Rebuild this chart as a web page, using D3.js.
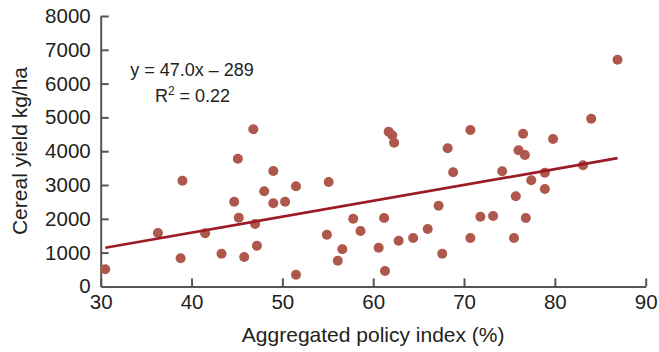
<!DOCTYPE html>
<html>
<head>
<meta charset="utf-8">
<script src="https://cdn.jsdelivr.net/npm/d3@7"></script>
<style>
  body { margin: 0; background: #fff; }
  svg { display: block; font-family: "Liberation Sans", Arial, sans-serif; }
</style>
</head>
<body>
<div id="chart"></div>
<script>
// policy index (%) per country
const policyIndex = [
  30.5, 36.3, 38.8, 39.0, 41.5, 43.3, 44.7, 45.1, 45.2, 45.8,
  46.8, 47.0, 47.2, 48.0, 49.0, 49.0, 50.3, 51.5, 51.5, 55.1,
  54.9, 56.1, 56.6, 57.8, 58.6, 60.6, 61.2, 61.3, 61.7, 62.1,
  62.3, 62.8, 64.4, 66.0, 67.2, 67.6, 68.2, 68.8, 70.7, 70.7,
  71.8, 73.2, 74.2, 75.5, 75.7, 76.0, 76.5, 76.7, 76.8, 77.4,
  78.9, 78.9, 79.8, 83.1, 84.0, 86.9
];

// cereal yield kg/ha, same order
const cerealYield = [
  506, 1580, 831, 3127, 1571, 967, 2506, 3778, 2033, 870,
  4648, 1846, 1204, 2813, 3414, 2458, 2506, 2961, 347, 3090,
  1530, 760, 1098, 2003, 1639, 1145, 2024, 456, 4577, 4470,
  4251, 1352, 1432, 1698, 2388, 967, 4086, 3376, 4627, 1432,
  2062, 2083, 3405, 1432, 2666, 4027, 4518, 3888, 2024, 3140,
  3364, 2882, 4361, 3583, 4962, 6707
];

// fitted line y = slope * x + intercept
const fit = { slope: 47.0, intercept: -289, r2: 0.22 };

const xTicks = [30, 40, 50, 60, 70, 80, 90];
const yTicks = [0, 1000, 2000, 3000, 4000, 5000, 6000, 7000, 8000];

const width = 659, height = 352;
const axisColor = "#555";
const textColor = "#231f20";

const svg = d3.select("#chart").append("svg")
    .attr("width", width)
    .attr("height", height);

const x = d3.scaleLinear().domain([30, 90]).range([100.7, 645.7]);
const y = d3.scaleLinear().domain([0, 8000]).range([286.4, 16]);

// y axis, ticks pointing inward
const yAxis = svg.append("g")
    .attr("transform", "translate(" + x(30) + ",0)")
    .call(d3.axisLeft(y).tickValues(yTicks).tickFormat(d3.format("d"))
        .tickSizeInner(-8).tickSizeOuter(0).tickPadding(10));

// x axis
const xAxis = svg.append("g")
    .attr("transform", "translate(0," + y(0) + ")")
    .call(d3.axisBottom(x).tickValues(xTicks).tickFormat(d3.format("d"))
        .tickSizeInner(-8).tickSizeOuter(0).tickPadding(8.5));

[xAxis, yAxis].forEach(function (g) {
    g.select(".domain").attr("stroke", axisColor).attr("stroke-width", 2);
    g.selectAll(".tick line").attr("stroke", axisColor).attr("stroke-width", 2);
    g.selectAll(".tick text")
        .attr("fill", textColor)
        .style("font-size", "20.5px")
        .style("font-family", "'Liberation Sans', Arial, sans-serif");
});
// the 0 tick sits on the x axis
yAxis.selectAll(".tick").filter(d => d === 0).select("line").remove();

// points
const points = policyIndex.map((d, i) => ({ x: d, y: cerealYield[i] }));
svg.append("g")
    .selectAll("circle")
    .data(points)
    .enter()
    .append("circle")
    .attr("cx", d => x(d.x))
    .attr("cy", d => y(d.y))
    .attr("r", 5)
    .attr("fill", "#ae574c");

// regression line over the data range
const xExt = d3.extent(policyIndex);
svg.append("line")
    .attr("x1", x(xExt[0]))
    .attr("y1", y(fit.slope * xExt[0] + fit.intercept))
    .attr("x2", x(xExt[1]))
    .attr("y2", y(fit.slope * xExt[1] + fit.intercept))
    .attr("stroke", "#9b1b26")
    .attr("stroke-width", 2.7);

// equation
svg.append("text")
    .attr("x", 192)
    .attr("y", 76)
    .attr("text-anchor", "middle")
    .attr("fill", textColor)
    .style("font-size", "18px")
    .text("y = " + fit.slope.toFixed(1) + "x \u2013 " + Math.abs(fit.intercept));

const r2 = svg.append("text")
    .attr("x", 192.5)
    .attr("y", 101.7)
    .attr("text-anchor", "middle")
    .attr("fill", textColor)
    .style("font-size", "18px");
r2.append("tspan").text("R");
r2.append("tspan").attr("dy", -7).style("font-size", "12px").text("2");
r2.append("tspan").attr("dy", 7).text(" = " + fit.r2.toFixed(2));

// axis titles
svg.append("text")
    .attr("x", (x(30) + x(90)) / 2 + 0)
    .attr("y", 342)
    .attr("text-anchor", "middle")
    .attr("fill", textColor)
    .style("font-size", "21px")
    .text("Aggregated policy index (%)");

svg.append("text")
    .attr("transform", "translate(27,151) rotate(-90)")
    .attr("text-anchor", "middle")
    .attr("fill", textColor)
    .style("font-size", "21px")
    .text("Cereal yield kg/ha");
</script>
</body>
</html>
